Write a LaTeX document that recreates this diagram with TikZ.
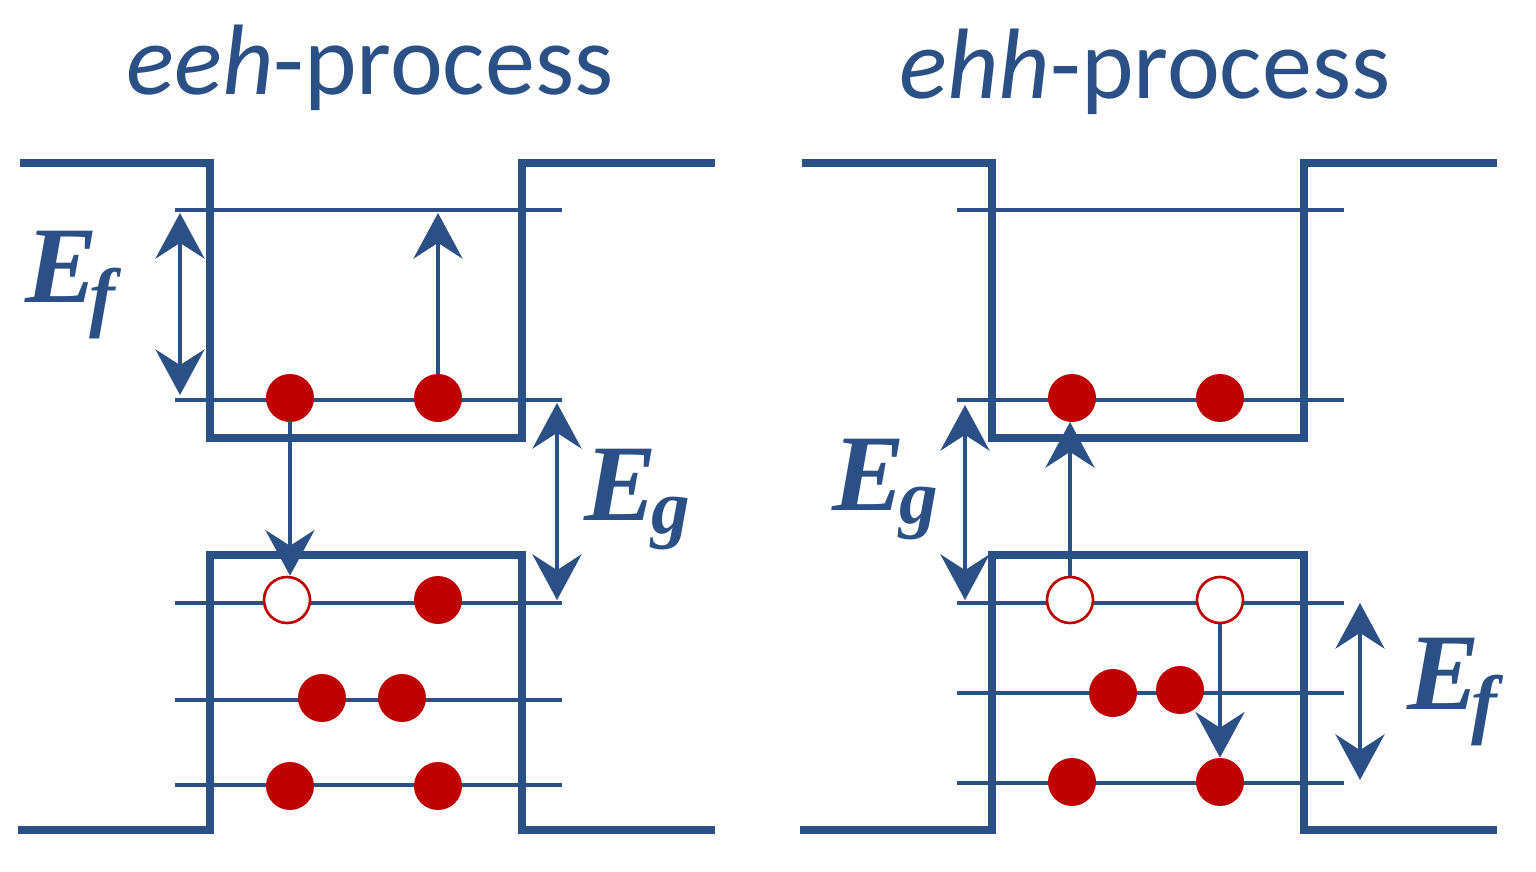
\documentclass[tikz,border=0pt]{standalone}
\usepackage{fontspec}
\setmainfont{Carlito}
\newfontfamily\serf{Liberation Serif}
\usetikzlibrary{arrows.meta}
\definecolor{bl}{HTML}{2B5085}
\definecolor{rd}{HTML}{C00000}
\begin{document}
\begin{tikzpicture}[x=0.02cm,y=-0.02cm,
 band/.style={bl,line width=4.5pt},
 lev/.style={bl,line width=2.4pt},
 arr/.style={bl,line width=2pt,-{Stealth[length=26pt,width=28pt,inset=9pt]}},
 darr/.style={bl,line width=2pt,{Stealth[length=26pt,width=28pt,inset=9pt]}-{Stealth[length=26pt,width=28pt,inset=9pt]}},
 dot/.style={circle,fill=rd,minimum size=48*0.02cm,inner sep=0},
 hole/.style={circle,draw=rd,fill=white,line width=1.5pt,minimum size=46*0.02cm,inner sep=0},
 ttl/.style={bl,font=\fontsize{57}{60}\selectfont},
 lab/.style={bl,font=\serf\bfseries\itshape\fontsize{62}{64}\selectfont}]
\useasboundingbox (0,0) rectangle (1536,872);
\foreach \dx/\n in {0/L,782/R}{
\begin{scope}[xshift=\dx*0.02cm]
\draw[band] (20,163) -- (210,163) -- (210,438) -- (522,438) -- (522,163) -- (715,163);
\draw[band] (18,830) -- (210,830) -- (210,555) -- (522,555) -- (522,830) -- (715,830);
\foreach \y in {210,400,603}{\draw[lev] (175,\y) -- (562,\y);}
\end{scope}}
\draw[lev] (175,700) -- (562,700);
\draw[lev] (175,785) -- (562,785);
\draw[lev] (957,693) -- (1344,693);
\draw[lev] (957,783) -- (1344,783);
\node[ttl] (t1) at (370,68) {\textit{eeh}-process};
\node[ttl] (t2) at (1145,72) {\textit{ehh}-process};
% left
\node[dot] (a1) at (290,398) {};
\node[dot] (a2) at (438,398) {};
\node[hole] (a3) at (287,600) {};
\node[dot] (a4) at (438,600) {};
\node[dot] (a5) at (322,698) {};
\node[dot] (a6) at (402,698) {};
\node[dot] (a7) at (290,786) {};
\node[dot] (a8) at (438,786) {};
\coordinate (u1) at (438,213);
\draw[arr] (a2.north) -- (u1);
\draw[arr] (a1.south) -- (a1.south |- a3.north);
\coordinate (ef1) at (180,213); \coordinate (ef2) at (180,395);
\draw[darr] (ef1) -- (ef2);
\node[lab] (lef) at (70,285) {E\kern-0.08em\raisebox{-0.18em}{\fontsize{44}{46}\selectfont f}};
\coordinate (eg1) at (557,403); \coordinate (eg2) at (557,600);
\draw[darr] (eg1) -- (eg2);
\node[lab] (leg) at (637,500) {E\kern-0.05em\raisebox{-0.12em}{\fontsize{44}{46}\selectfont g}};
% right
\node[dot] (b1) at (1072,398) {};
\node[dot] (b2) at (1220,398) {};
\node[hole] (b3) at (1070,600) {};
\node[hole] (b4) at (1220,600) {};
\node[dot] (b5) at (1113,693) {};
\node[dot] (b6) at (1180,690) {};
\node[dot] (b7) at (1072,782) {};
\node[dot] (b8) at (1220,782) {};
\coordinate (u2) at (1070,422);
\draw[arr] (b3.north) -- (u2);
\draw[arr] (b4.south) -- (b8.north);
\coordinate (eg3) at (965,405); \coordinate (eg4) at (965,600);
\draw[darr] (eg3) -- (eg4);
\node[lab] (leg2) at (885,490) {E\kern-0.05em\raisebox{-0.12em}{\fontsize{44}{46}\selectfont g}};
\coordinate (ef3) at (1360,603); \coordinate (ef4) at (1360,780);
\draw[darr] (ef3) -- (ef4);
\node[lab] (lef2) at (1452,692) {E\kern-0.08em\raisebox{-0.18em}{\fontsize{44}{46}\selectfont f}};
\end{tikzpicture}
\end{document}
